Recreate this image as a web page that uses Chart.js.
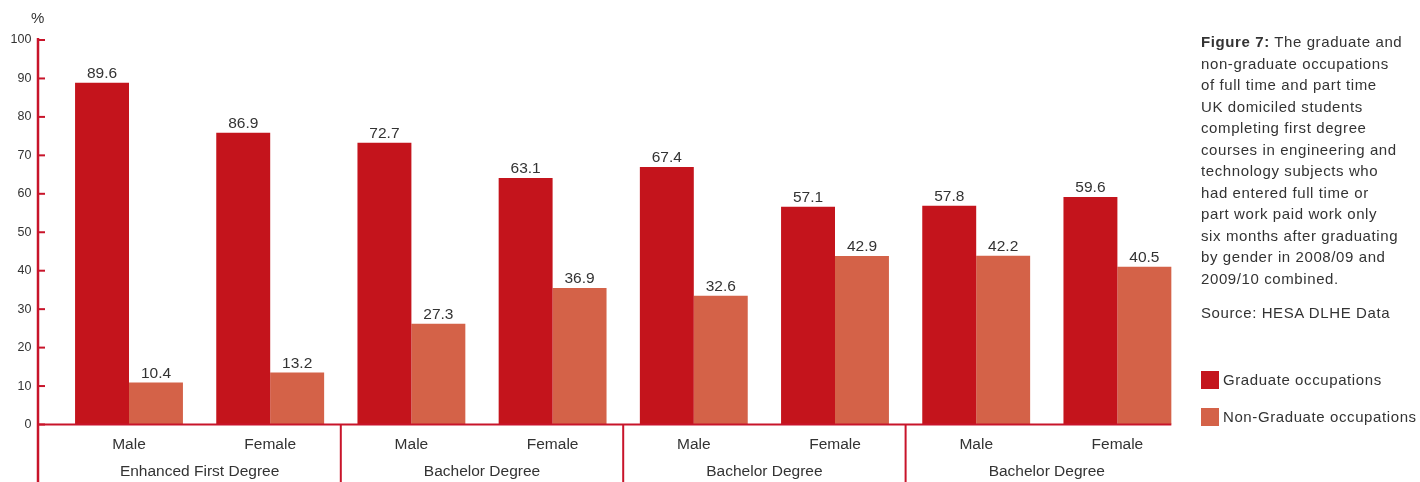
<!DOCTYPE html>
<html>
<head>
<meta charset="utf-8">
<script src="https://cdn.jsdelivr.net/npm/chart.js@4"></script>
<style>
  html, body { margin: 0; padding: 0; background: #fff; }
  #wrap { position: relative; width: 1420px; height: 482px; font-family: "Liberation Sans", Arial, sans-serif; color: #333; }
  canvas { position: absolute; left: 0; top: 0; }
  .pct { position: absolute; left: 31px; top: 9px; font-size: 15px; }
  .caption { position: absolute; left: 1201px; top: 31px; font-size: 15px; letter-spacing: 0.6px; line-height: 21.5px; width: 219px; }
  .caption b { font-weight: bold; }
  .source { position: absolute; left: 1201px; top: 304px; font-size: 15px; letter-spacing: 0.6px; }
  .legend { position: absolute; left: 1201px; font-size: 15px; letter-spacing: 0.6px; }
  .legend span.box { position: absolute; left: 0; top: 0; width: 18px; height: 18px; }
  .legend span.txt { position: absolute; left: 22px; top: 0; white-space: nowrap; line-height: 18px; }
</style>
</head>
<body>
<div id="wrap">
  <canvas id="chart" width="1420" height="482"></canvas>
  <div class="pct">%</div>
  <div class="caption"><b>Figure 7:</b> The graduate and<br>non-graduate occupations<br>of full time and part time<br>UK domiciled students<br>completing first degree<br>courses in engineering and<br>technology subjects who<br>had entered full time or<br>part work paid work only<br>six months after graduating<br>by gender in 2008/09 and<br>2009/10 combined.</div>
  <div class="source">Source: HESA DLHE Data</div>
  <div class="legend" style="top:371px"><span class="box" style="background:#c4141c"></span><span class="txt">Graduate occupations</span></div>
  <div class="legend" style="top:408px"><span class="box" style="background:#d46248"></span><span class="txt">Non-Graduate occupations</span></div>
</div>
<script>
const genders = ['Male', 'Female', 'Male', 'Female', 'Male', 'Female', 'Male', 'Female'];
const groups = ['Enhanced First Degree', 'Bachelor Degree', 'Bachelor Degree', 'Bachelor Degree'];

// bar heights as drawn in the picture
const graduate = [88.9, 75.9, 73.3, 64.1, 67.0, 56.6, 56.9, 59.2];
const nonGraduate = [10.9, 13.5, 26.2, 35.5, 33.5, 43.8, 43.9, 41.0];

// printed value labels
const graduateLabels = ['89.6', '86.9', '72.7', '63.1', '67.4', '57.1', '57.8', '59.6'];
const nonGraduateLabels = ['10.4', '13.2', '27.3', '36.9', '32.6', '42.9', '42.2', '40.5'];

const red = '#c4141c';
const orange = '#d46248';
const axisRed = '#c8142a';
const textColor = '#333';
const font = '"Liberation Sans", Arial, sans-serif';

const decorations = {
    id: 'decorations',
    afterDatasetsDraw(chart) {
        const ctx = chart.ctx;
        const area = chart.chartArea;
        const x = chart.scales.x;
        const y = chart.scales.y;
        const axisX = 38;

        ctx.save();
        // value labels
        ctx.fillStyle = textColor;
        ctx.font = '15.5px ' + font;
        ctx.textAlign = 'center';
        ctx.textBaseline = 'alphabetic';
        const labelSets = [graduateLabels, nonGraduateLabels];
        chart.data.datasets.forEach((ds, di) => {
            chart.getDatasetMeta(di).data.forEach((bar, i) => {
                ctx.fillText(labelSets[di][i], bar.x, bar.y - 5);
            });
        });

        // axes
        ctx.strokeStyle = axisRed;
        ctx.lineWidth = 2.5;
        ctx.beginPath();
        ctx.moveTo(axisX, area.top - 2);
        ctx.lineTo(axisX, 482);
        ctx.stroke();

        const meta = chart.getDatasetMeta(1);
        const lastBar = meta.data[meta.data.length - 1];
        const right = lastBar.x + lastBar.width / 2;
        ctx.lineWidth = 2;
        ctx.beginPath();
        ctx.moveTo(axisX, y.getPixelForValue(0));
        ctx.lineTo(right, y.getPixelForValue(0));
        ctx.stroke();

        // y ticks
        y.ticks.forEach(t => {
            const py = y.getPixelForValue(t.value);
            ctx.beginPath();
            ctx.moveTo(axisX, py);
            ctx.lineTo(axisX + 7, py);
            ctx.stroke();
        });

        // group separators and group labels
        ctx.lineWidth = 2;
        groups.forEach((g, gi) => {
            const a = x.getPixelForValue(gi * 2);
            const b = x.getPixelForValue(gi * 2 + 1);
            ctx.fillText(g, (a + b) / 2, 476);
            if (gi < groups.length - 1) {
                const sep = (b + x.getPixelForValue(gi * 2 + 2)) / 2;
                ctx.beginPath();
                ctx.moveTo(sep, y.getPixelForValue(0));
                ctx.lineTo(sep, 482);
                ctx.stroke();
            }
        });
        ctx.restore();
    }
};

const chart = new Chart(document.getElementById('chart'), {
    type: 'bar',
    data: {
        labels: genders,
        datasets: [
            { label: 'Graduate occupations', data: graduate, backgroundColor: red },
            { label: 'Non-Graduate occupations', data: nonGraduate, backgroundColor: orange }
        ]
    },
    options: {
        responsive: false,
        animation: false,
        categoryPercentage: 0.764,
        barPercentage: 1,
        layout: { padding: { top: 40, right: 232, bottom: 0, left: 0 } },
        scales: {
            x: {
                grid: { display: false, drawTicks: false },
                border: { display: false },
                ticks: {
                    color: textColor,
                    font: { family: font, size: 15.5 },
                    padding: 11,
                    maxRotation: 0,
                    autoSkip: false
                },
                afterFit(scale) { scale.height = 57.5; }
            },
            y: {
                min: 0,
                max: 100,
                grid: { display: false, drawTicks: false },
                border: { display: false },
                ticks: {
                    stepSize: 10,
                    color: textColor,
                    font: { family: font, size: 12.5 },
                    padding: 27
                },
                afterFit(scale) { scale.width = 58.4; }
            }
        },
        plugins: {
            legend: { display: false },
            tooltip: { enabled: false }
        }
    },
    plugins: [decorations]
});
</script>
</body>
</html>
